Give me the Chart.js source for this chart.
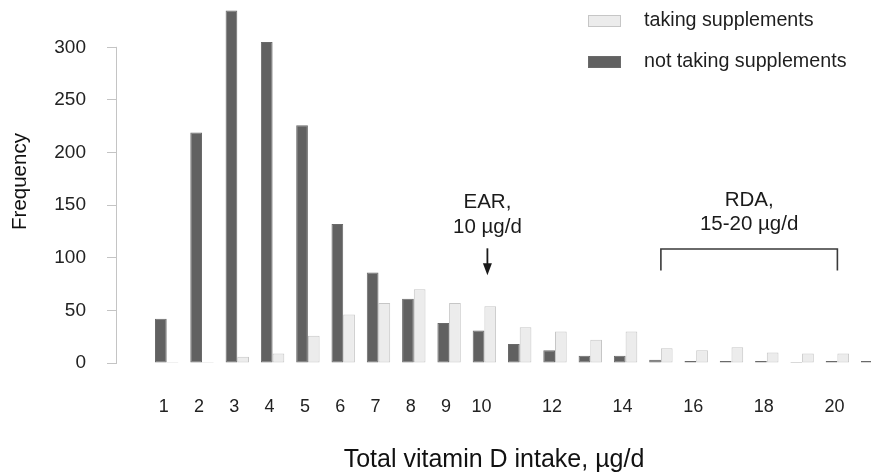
<!DOCTYPE html>
<html>
<head>
<meta charset="utf-8">
<script src="https://cdn.jsdelivr.net/npm/chart.js@4.4.1/dist/chart.umd.min.js"></script>
<style>
  html, body { margin: 0; padding: 0; background: #ffffff; }
  #wrap { width: 871px; height: 475px; }
</style>
</head>
<body>
<div id="wrap"><canvas id="c" width="871" height="475"></canvas></div>
<script>
// Intake bins (µg/d) and counts per bin
const intakeBins = [1, 2, 3, 4, 5, 6, 7, 8, 9, 10, 11, 12, 13, 14, 15, 16, 17, 18, 19, 20, 21];
const notTaking  = [42, 219, 335, 305, 226, 132, 86, 61, 38, 31, 18, 12, 7, 7, 3, 2, 2, 2, 1, 2, 2];
const taking     = [1, 1, 6, 9, 26, 46, 57, 70, 57, 54, 34, 30, 22, 30, 14, 12, 15, 10, 9, 9, null];

const seriesNames = ['not taking supplements', 'taking supplements'];
const xTickValues = [1, 2, 3, 4, 5, 6, 7, 8, 9, 10, 12, 14, 16, 18, 20];
const yTickValues = [0, 50, 100, 150, 200, 250, 300];

// Reference intakes marked above the bars (positions in axis units)
const earValue = 10;
const earLines = ['EAR,', '10 µg/d'];
const earTextY = [153, 129];
const earArrowY = [109, 83.5];
const rdaRange = [15, 20];
const rdaLines = ['RDA,', '15-20 µg/d'];
const rdaTextY = [155, 132];
const rdaBracketY = [108, 88];

const FONT = "'Liberation Sans', Arial, Helvetica, sans-serif";
const DARK = '#616161';
const LIGHT = '#ececec';

// Vertical axis line spanning only the labelled tick range
const axisLinePlugin = {
  id: 'axisLine',
  afterDraw(chart) {
    const { ctx, chartArea } = chart;
    const y = chart.scales.y;
    const x0 = Math.round(chartArea.left) - 0.5;
    ctx.save();
    ctx.strokeStyle = '#c4c4c4';
    ctx.lineWidth = 1;
    ctx.beginPath();
    ctx.moveTo(x0, y.getPixelForValue(yTickValues[0]) + 0.5);
    ctx.lineTo(x0, y.getPixelForValue(yTickValues[yTickValues.length - 1]) - 0.5);
    ctx.stroke();
    ctx.restore();
  }
};

// EAR arrow and RDA bracket annotations
const markersPlugin = {
  id: 'markers',
  afterDatasetsDraw(chart) {
    const { ctx } = chart;
    const xs = chart.scales.x, ys = chart.scales.y;
    ctx.save();
    ctx.fillStyle = '#1a1a1a';
    ctx.strokeStyle = '#1a1a1a';
    ctx.font = '20.5px ' + FONT;
    ctx.textAlign = 'center';
    ctx.textBaseline = 'middle';

    // EAR label and arrow
    const ex = xs.getPixelForValue(earValue) + 3;
    earLines.forEach((t, i) => ctx.fillText(t, ex, ys.getPixelForValue(earTextY[i])));
    const aTop = ys.getPixelForValue(earArrowY[0]);
    const aTip = ys.getPixelForValue(earArrowY[1]);
    ctx.lineWidth = 1.8;
    ctx.beginPath();
    ctx.moveTo(ex, aTop);
    ctx.lineTo(ex, aTip - 10);
    ctx.stroke();
    ctx.beginPath();
    ctx.moveTo(ex - 4.5, aTip - 12);
    ctx.lineTo(ex + 4.5, aTip - 12);
    ctx.lineTo(ex, aTip);
    ctx.closePath();
    ctx.fill();

    // RDA label and bracket
    const r0 = xs.getPixelForValue(rdaRange[0]);
    const r1 = xs.getPixelForValue(rdaRange[1]);
    const rc = (r0 + r1) / 2;
    rdaLines.forEach((t, i) => ctx.fillText(t, rc, ys.getPixelForValue(rdaTextY[i])));
    const bTop = Math.round(ys.getPixelForValue(rdaBracketY[0]));
    const bBot = ys.getPixelForValue(rdaBracketY[1]);
    ctx.strokeStyle = '#3a3a3a';
    ctx.lineWidth = 1.6;
    ctx.beginPath();
    ctx.moveTo(r0, bBot);
    ctx.lineTo(r0, bTop);
    ctx.lineTo(r1, bTop);
    ctx.lineTo(r1, bBot);
    ctx.stroke();
    ctx.restore();
  }
};

// Stacked legend in the top-right corner, light series listed first
const legendPlugin = {
  id: 'stackLegend',
  afterDraw(chart, args, opts) {
    const { ctx } = chart;
    const items = chart.data.datasets.slice().reverse();
    ctx.save();
    ctx.font = opts.fontSize + 'px ' + FONT;
    ctx.textAlign = 'left';
    ctx.textBaseline = 'middle';
    items.forEach((ds, i) => {
      const top = opts.top + i * opts.rowGap;
      ctx.fillStyle = ds.backgroundColor;
      ctx.fillRect(opts.left, top, opts.boxWidth, opts.boxHeight);
      ctx.strokeStyle = ds.borderColor;
      ctx.lineWidth = 1;
      ctx.strokeRect(opts.left + 0.5, top + 0.5, opts.boxWidth - 1, opts.boxHeight - 1);
      ctx.fillStyle = '#1e1e1e';
      ctx.fillText(ds.label, opts.left + opts.boxWidth + opts.gap, top + opts.boxHeight / 2);
    });
    ctx.restore();
  }
};

new Chart(document.getElementById('c'), {
  type: 'bar',
  data: {
    datasets: [
      {
        label: seriesNames[0],
        data: intakeBins.map((x, i) => ({ x, y: notTaking[i] })),
        backgroundColor: DARK,
        borderColor: '#6a6a6a',
        borderWidth: 1,
        borderSkipped: false
      },
      {
        label: seriesNames[1],
        data: intakeBins.map((x, i) => ({ x, y: taking[i] })),
        backgroundColor: LIGHT,
        borderColor: '#c6c6c6',
        borderWidth: 1,
        borderSkipped: false
      }
    ]
  },
  options: {
    responsive: false,
    animation: false,
    devicePixelRatio: 1,
    layout: { padding: 0 },
    datasets: { bar: { categoryPercentage: 0.663, barPercentage: 1.0 } },
    scales: {
      x: {
        type: 'linear',
        offset: false,
        min: -0.408,
        max: 20.952,
        grid: { display: false, drawTicks: false },
        border: { display: false },
        afterBuildTicks(s) { s.ticks = xTickValues.map(v => ({ value: v })); },
        afterFit(s) { s.height = 112; s.paddingLeft = 0; s.paddingRight = 0; },
        ticks: {
          autoSkip: false,
          maxRotation: 0,
          padding: 33,
          labelOffset: -3,
          color: '#222',
          font: { family: FONT, size: 18 },
          callback: v => String(v)
        },
        title: {
          display: true,
          text: 'Total vitamin D intake, µg/d',
          color: '#111',
          font: { family: FONT, size: 25 },
          padding: { top: 0, bottom: 0 }
        }
      },
      y: {
        min: 0,
        max: 345,
        grid: { display: true, drawOnChartArea: false, drawTicks: true, tickLength: 10, color: '#c4c4c4' },
        border: { display: false },
        afterBuildTicks(s) { s.ticks = s.ticks.filter(t => yTickValues.includes(t.value)); },
        afterFit(s) { s.width = 117; s.paddingTop = 0; },
        ticks: {
          stepSize: 50,
          padding: 21,
          color: '#222',
          font: { family: FONT, size: 19 }
        },
        title: {
          display: true,
          text: 'Frequency',
          color: '#111',
          font: { family: FONT, size: 20.5 },
          padding: { top: 8, bottom: 1 }
        }
      }
    },
    plugins: {
      legend: { display: false },
      tooltip: { enabled: false },
      stackLegend: { left: 588, top: 15, rowGap: 41, boxWidth: 33, boxHeight: 12, gap: 23, fontSize: 19.7 }
    }
  },
  plugins: [axisLinePlugin, markersPlugin, legendPlugin]
});
</script>
</body>
</html>
